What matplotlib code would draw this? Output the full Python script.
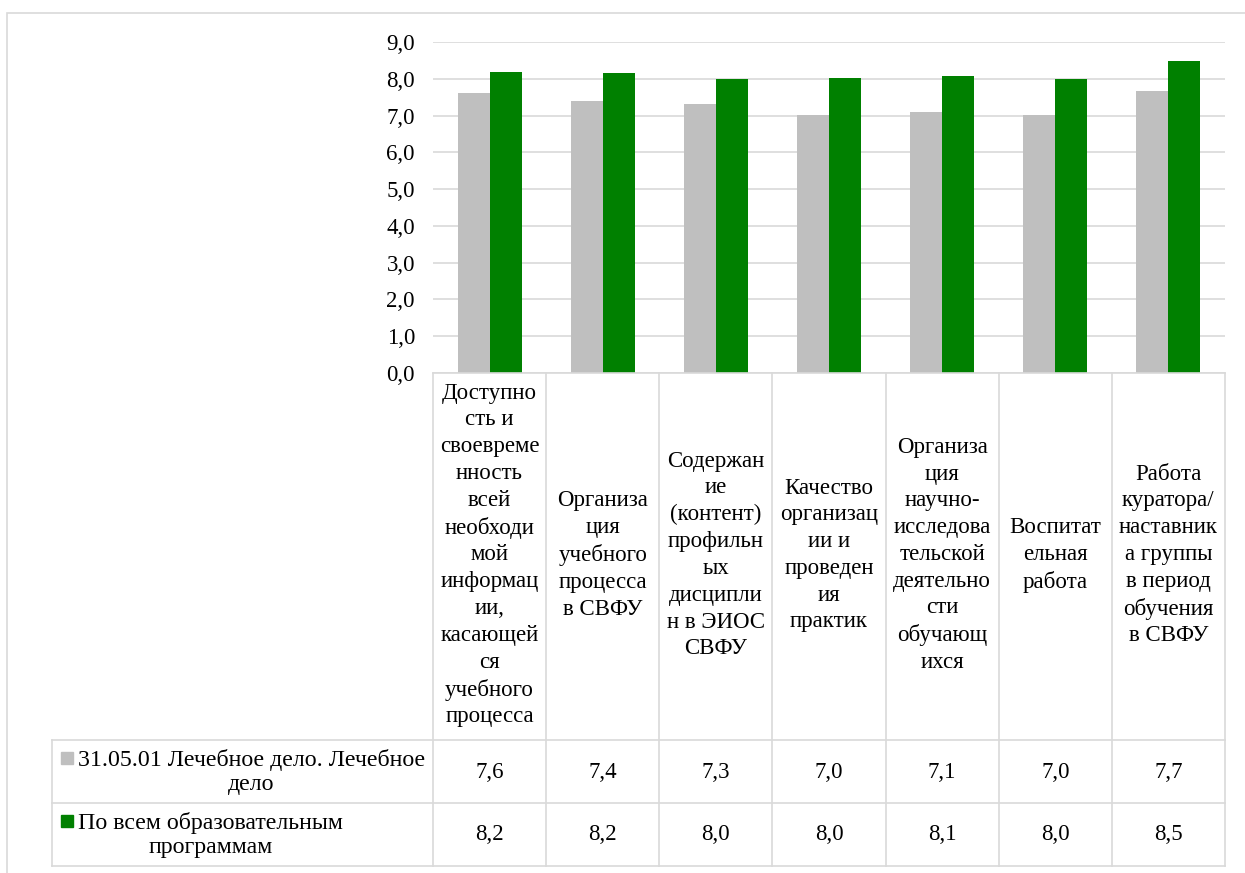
import numpy as np
import matplotlib.pyplot as plt
from matplotlib.patches import Rectangle

plt.rcParams['font.family'] = ['Liberation Serif', 'DejaVu Serif']

# data
categories = [
    'Доступно\nсть и\nсвоевреме\nнность\nвсей\nнеобходи\nмой\nинформац\nии,\nкасающей\nся\nучебного\nпроцесса',
    'Организа\nция\nучебного\nпроцесса\nв СВФУ',
    'Содержан\nие\n(контент)\nпрофильн\nых\nдисципли\nн в ЭИОС\nСВФУ',
    'Качество\nорганизац\nии и\nпроведен\nия\nпрактик',
    'Организа\nция\nнаучно-\nисследова\nтельской\nдеятельно\nсти\nобучающ\nихся',
    'Воспитат\nельная\nработа',
    'Работа\nкуратора/\nнаставник\nа группы\nв период\nобучения\nв СВФУ',
]
series_names = ['31.05.01 Лечебное дело. Лечебное\nдело',
                'По всем образовательным\nпрограммам']
program_vals = [7.61, 7.39, 7.31, 7.01, 7.09, 7.01, 7.66]
all_vals = [8.18, 8.15, 7.99, 8.02, 8.07, 7.99, 8.48]
colors = ['#BFBFBF', '#008000']
yticks = np.arange(0, 9.1, 1.0)

W, H = 1245, 873
fig = plt.figure(figsize=(W / 100, H / 100), dpi=100)
grid_c = '#D9D9D9'
fs = 16.5

# outer chart border (cropped on the right/bottom)
fig.patches.append(Rectangle((7 / W, -0.1), 1.1, 1 - 13 / H + 0.1, transform=fig.transFigure,
                             fill=False, edgecolor=grid_c, lw=1.2))

x0, x1 = 433, 1225
ax = fig.add_axes([x0 / W, 1 - 373 / H, (x1 - x0) / W, (373 - 42) / H])
n = len(categories)
x = np.arange(n)
bw = 0.283
ax.bar(x - bw / 2, program_vals, bw, color=colors[0], zorder=3)
ax.bar(x + bw / 2, all_vals, bw, color=colors[1], zorder=3)
ax.set_xlim(-0.5, n - 0.5)
ax.set_ylim(0, 9)
ax.set_yticks(yticks)
ax.set_yticklabels([f'{v:.1f}'.replace('.', ',') for v in yticks], fontsize=fs)
ax.tick_params(axis='y', length=0, pad=13)
ax.set_xticks([])
ax.yaxis.grid(True, color=grid_c, lw=1.2, zorder=0)
for s in ax.spines.values():
    s.set_visible(False)

# data table underneath
tl = 52
lbl_w = (x0 - tl) / ((x1 - x0) / n)
tab = fig.add_axes([tl / W, 1 - 866 / H, (x1 - tl) / W, (866 - 373) / H])
tab.set_xlim(-0.5 - lbl_w, n - 0.5)
tab.set_ylim(866, 373)
tab.axis('off')
left = -0.5 - lbl_w
for yy in [740, 803, 866]:
    tab.plot([left, n - 0.5], [yy, yy], color=grid_c, lw=1.2, clip_on=False)
tab.plot([-0.5, n - 0.5], [373, 373], color=grid_c, lw=1.2, clip_on=False)
for i in range(n + 1):
    tab.plot([i - 0.5, i - 0.5], [373, 866], color=grid_c, lw=1.2, clip_on=False)
tab.plot([left, left], [740, 866], color=grid_c, lw=1.2, clip_on=False)

for i, c in enumerate(categories):
    tab.text(i, 555, c, ha='center', va='center', fontsize=fs, linespacing=1.36)

rows = [program_vals, all_vals]
row_mid = [772, 835]
for r, vals in enumerate(rows):
    for i, v in enumerate(vals):
        tab.text(i, row_mid[r], f'{v:.1f}'.replace('.', ','), ha='center', va='center', fontsize=fs)
    fig.text(78 / W, 1 - row_mid[r] / H, series_names[r], ha='left', va='center',
             multialignment='center', fontsize=17.2, linespacing=1.22)
    fig.patches.append(Rectangle((61 / W, 1 - (row_mid[r] - 8) / H), 12 / W, 12 / H,
                                 transform=fig.transFigure, color=colors[r]))

fig.savefig('out.png', dpi=100)
